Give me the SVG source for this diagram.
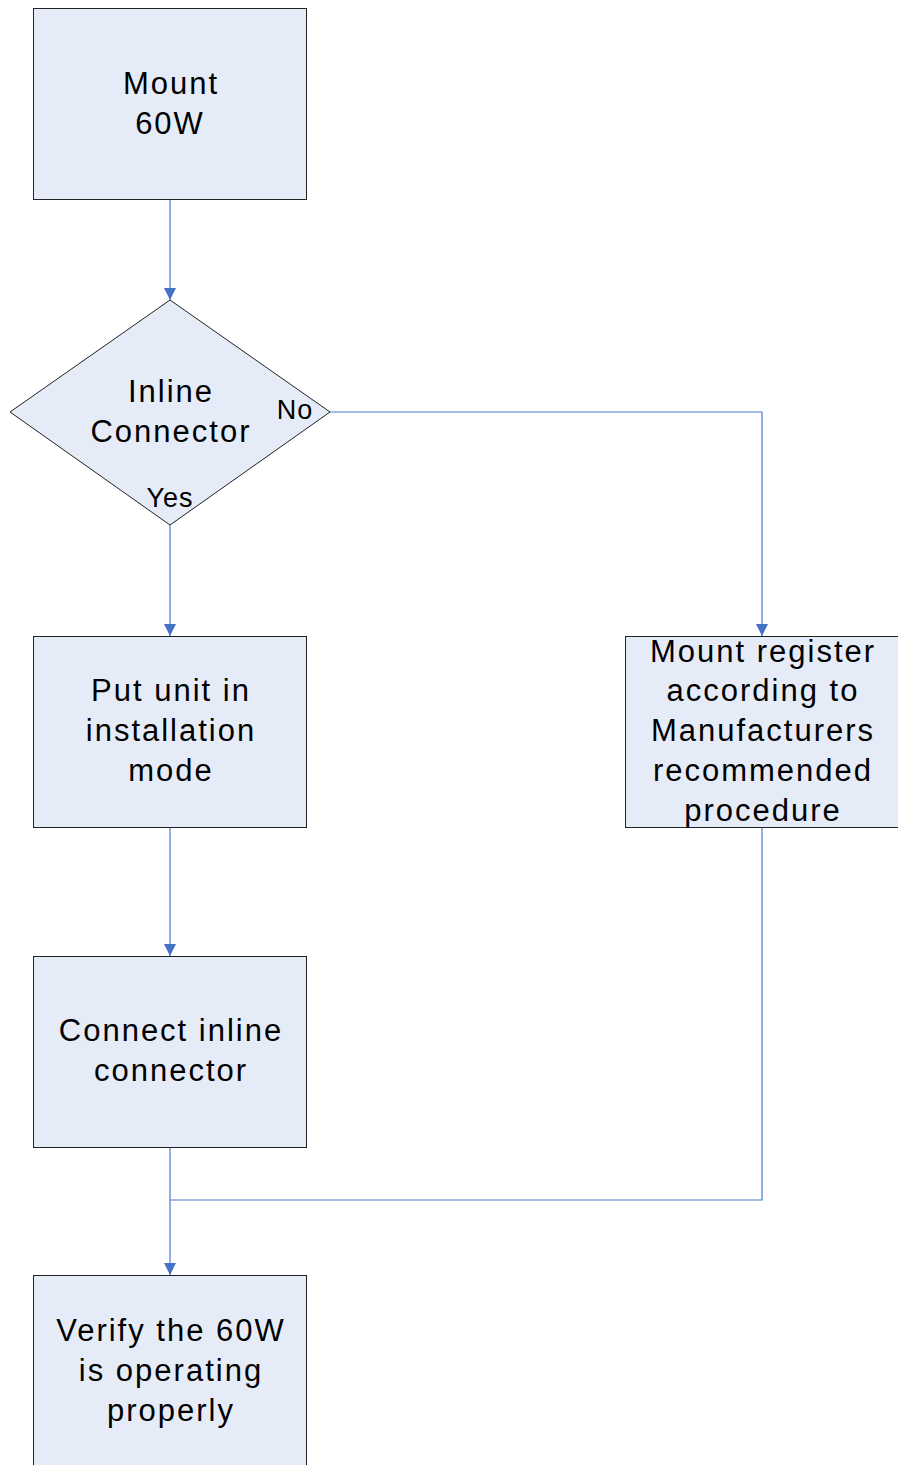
<svg xmlns="http://www.w3.org/2000/svg" width="898" height="1465" viewBox="0 0 898 1465">
<style>
.n{fill:#E6ECF7;stroke:#222;stroke-width:1}
.t{font-family:"Liberation Sans",Arial,sans-serif;font-size:31px;fill:#000;text-anchor:middle;letter-spacing:2px}
.s{font-family:"Liberation Sans",Arial,sans-serif;font-size:27px;fill:#000;text-anchor:middle;letter-spacing:1px}
.c{fill:none;stroke:#4A7CC9;stroke-width:1.2}
</style>
<defs>
<marker id="a" markerWidth="12" markerHeight="12" refX="10" refY="5" orient="auto" markerUnits="userSpaceOnUse" viewBox="0 0 10 10">
<path d="M0,0 L10,5 L0,10 Z" fill="#4472C4"/>
</marker>
</defs>
<g id="connectors">
<path class="c" d="M170,200 V300" marker-end="url(#a)"/>
<path class="c" d="M170,525 V636" marker-end="url(#a)"/>
<path class="c" d="M330,412 H762 V636" marker-end="url(#a)"/>
<path class="c" d="M170,828 V956" marker-end="url(#a)"/>
<path class="c" d="M170,1147 V1275" marker-end="url(#a)"/>
<path class="c" d="M762,828 V1200 H170"/>
</g>
<g id="mount60w">
<rect class="n" x="33.5" y="8.5" width="273" height="191"/>
<text class="t" x="171" y="94">Mount</text>
<text class="t" x="170" y="134">60W</text>
</g>
<g id="inline">
<polygon class="n" points="170,300 330,412 170,525 10,412"/>
<text class="t" x="171" y="402">Inline</text>
<text class="t" x="171" y="442">Connector</text>
<text class="s" x="295" y="419">No</text>
<text class="s" x="170" y="507">Yes</text>
</g>
<g id="putunit">
<rect class="n" x="33.5" y="636.5" width="273" height="191"/>
<text class="t" x="171" y="701">Put unit in</text>
<text class="t" x="171" y="741">installation</text>
<text class="t" x="171" y="781">mode</text>
</g>
<g id="mountregister">
<rect class="n" x="625.5" y="636.5" width="274" height="191"/>
<text class="t" x="763" y="662">Mount register</text>
<text class="t" x="763" y="701">according to</text>
<text class="t" x="763" y="741">Manufacturers</text>
<text class="t" x="763" y="781">recommended</text>
<text class="t" x="763" y="821">procedure</text>
</g>
<g id="connect">
<rect class="n" x="33.5" y="956.5" width="273" height="191"/>
<text class="t" x="171" y="1041">Connect inline</text>
<text class="t" x="171" y="1081">connector</text>
</g>
<g id="verify">
<rect class="n" x="33.5" y="1275.5" width="273" height="191"/>
<text class="t" x="171" y="1341">Verify the 60W</text>
<text class="t" x="171" y="1381">is operating</text>
<text class="t" x="171" y="1421">properly</text>
</g>
</svg>
